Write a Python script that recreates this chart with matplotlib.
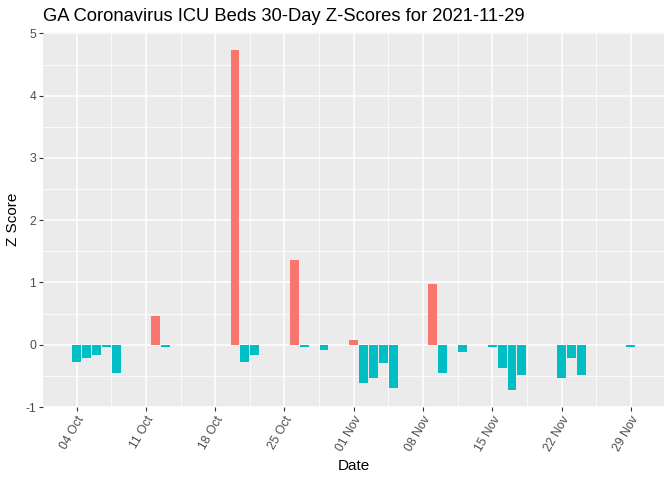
import numpy as np
import pandas as pd
import matplotlib
matplotlib.use("Agg")
import matplotlib.pyplot as plt
import matplotlib.dates as mdates

plt.rcParams['font.family'] = ['Liberation Sans', 'DejaVu Sans']

# days with a z-score (days without a bar are left out)
dates = [
    '2021-10-04', '2021-10-05', '2021-10-06', '2021-10-07', '2021-10-08',
    '2021-10-12', '2021-10-13',
    '2021-10-20', '2021-10-21', '2021-10-22',
    '2021-10-26', '2021-10-27', '2021-10-29',
    '2021-11-01', '2021-11-02', '2021-11-03', '2021-11-04', '2021-11-05',
    '2021-11-09', '2021-11-10', '2021-11-12',
    '2021-11-15', '2021-11-16', '2021-11-17', '2021-11-18',
    '2021-11-22', '2021-11-23', '2021-11-24',
    '2021-11-29',
]
zscores = [
    -0.27, -0.22, -0.16, -0.03, -0.46,
    0.46, -0.03,
    4.74, -0.27, -0.16,
    1.36, -0.03, -0.08,
    0.08, -0.62, -0.54, -0.30, -0.70,
    0.97, -0.46, -0.11,
    -0.03, -0.38, -0.73, -0.49,
    -0.54, -0.22, -0.49,
    -0.03,
]

RED = '#F8766D'
TEAL = '#00BFC4'

x = pd.to_datetime(dates)
colors = [RED if z > 0 else TEAL for z in zscores]

fig = plt.figure(figsize=(6.72, 4.8), dpi=100)
ax = fig.add_axes([0.064, 0.152, 0.924, 0.781])
ax.set_facecolor('#EBEBEB')

ax.bar(x, zscores, width=0.9, color=colors, zorder=3)

# ggplot-like limits and grid
x0 = mdates.date2num(pd.Timestamp('2021-10-04'))
ax.set_xlim(x0 - 3.4, mdates.date2num(pd.Timestamp('2021-11-29')) + 3.35)
ax.set_ylim(-1.0, 5.02)

major_x = pd.date_range('2021-10-04', '2021-11-29', freq='7D')
ax.set_xticks(major_x)
ax.set_xticks(mdates.date2num(major_x[:-1]) + 3.5, minor=True)
ax.xaxis.set_major_formatter(mdates.DateFormatter('%d %b'))
ax.set_yticks(np.arange(-1, 6, 1))
ax.set_yticks(np.arange(-0.5, 5.0, 1), minor=True)
ax.set_yticklabels([str(v) for v in range(-1, 6)])

ax.grid(which='major', color='white', linewidth=1.1, zorder=0)
ax.grid(which='minor', color='white', linewidth=0.55, zorder=0)
ax.set_axisbelow(True)
for s in ax.spines.values():
    s.set_visible(False)

ax.tick_params(which='major', length=3, width=0.8, color='#333333',
               labelcolor='#4D4D4D', labelsize=8.8, pad=2)
ax.tick_params(which='minor', length=0)
plt.setp(ax.get_xticklabels(), rotation=60, ha='right', va='top',
         rotation_mode='anchor')

ax.set_xlabel('Date', fontsize=11, color='black', labelpad=4)
ax.set_ylabel('Z Score', fontsize=11, color='black', labelpad=4)
ax.set_title('GA Coronavirus ICU Beds 30-Day Z-Scores for 2021-11-29',
             fontsize=13.2, loc='left', color='black', pad=8)

fig.savefig('out.png', dpi=100, facecolor='white')
